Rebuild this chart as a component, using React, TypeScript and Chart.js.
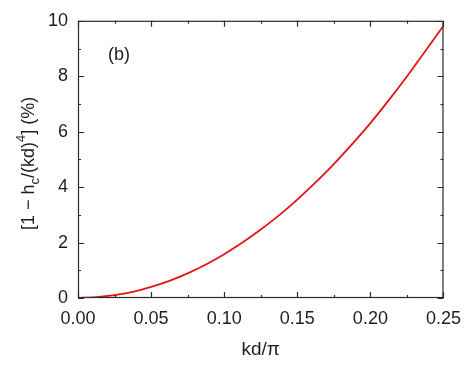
import React, { useEffect, useRef } from "react";
import { Chart, registerables } from "chart.js";

Chart.register(...registerables);

const kdOverPi = [0, 0.0125, 0.025, 0.0375, 0.05, 0.0625, 0.075, 0.0875, 0.1, 0.1125, 0.125, 0.1375, 0.15, 0.1625, 0.175, 0.1875, 0.2, 0.2125, 0.225, 0.2375, 0.25];
const deviationPct = [0, 0.03, 0.1, 0.22, 0.4, 0.62, 0.89, 1.21, 1.58, 2.0, 2.47, 2.98, 3.55, 4.17, 4.83, 5.55, 6.31, 7.13, 7.99, 8.9, 9.82];
const xMajorTicks = [0, 0.05, 0.1, 0.15, 0.2, 0.25];
const xMinorTicks = [0.025, 0.075, 0.125, 0.175, 0.225];
const yMajorTicks = [0, 2, 4, 6, 8, 10];
const yMinorTicks = [1, 3, 5, 7, 9];
const panelLabel = "(b)";
const xTitle = "kd/π";

const FONT = "'Liberation Sans', Arial, sans-serif";
const AXIS_COLOR = "#2a2a2a";
const TEXT_COLOR = "#1e1e1e";

const framePlugin = {
  id: "frame",
  afterDatasetsDraw(chart: any) {
    const { ctx, chartArea: a, scales } = chart;
    const xs = scales.x;
    const ys = scales.y;
    ctx.save();
    ctx.strokeStyle = AXIS_COLOR;
    ctx.lineWidth = 1.2;
    ctx.strokeRect(a.left + 0.5, a.top + 0.5, a.right - a.left - 1, a.bottom - a.top - 1);
    ctx.beginPath();
    const xt = (vals: number[], len: number) => {
      vals.forEach((v) => {
        const px = Math.round(xs.getPixelForValue(v)) + 0.5;
        ctx.moveTo(px, a.bottom);
        ctx.lineTo(px, a.bottom - len);
        ctx.moveTo(px, a.top);
        ctx.lineTo(px, a.top + len);
      });
    };
    const yt = (vals: number[], len: number) => {
      vals.forEach((v) => {
        const py = Math.round(ys.getPixelForValue(v)) + 0.5;
        ctx.moveTo(a.left, py);
        ctx.lineTo(a.left + len, py);
        ctx.moveTo(a.right, py);
        ctx.lineTo(a.right - len, py);
      });
    };
    xt(xMajorTicks, 6);
    xt(xMinorTicks, 3);
    yt(yMajorTicks, 6);
    yt(yMinorTicks, 3);
    ctx.stroke();

    // panel label
    ctx.fillStyle = TEXT_COLOR;
    ctx.font = `18px ${FONT}`;
    ctx.textAlign = "left";
    ctx.textBaseline = "middle";
    ctx.fillText(panelLabel, a.left + 30, a.top + 34);

    // y title with sub/superscripts
    const pieces = [
      { t: "[1 − h", size: 18, dy: 0 },
      { t: "c", size: 13, dy: 6 },
      { t: "/(kd)", size: 18, dy: 0 },
      { t: "4", size: 13, dy: -8 },
      { t: "] (%)", size: 18, dy: 0 },
    ];
    let total = 0;
    pieces.forEach((p) => {
      ctx.font = `${p.size}px ${FONT}`;
      total += ctx.measureText(p.t).width;
    });
    ctx.translate(29, (a.top + a.bottom) / 2 + 4);
    ctx.rotate(-Math.PI / 2);
    ctx.textAlign = "left";
    ctx.textBaseline = "middle";
    let x = -total / 2;
    pieces.forEach((p) => {
      ctx.font = `${p.size}px ${FONT}`;
      ctx.fillText(p.t, x, p.dy);
      x += ctx.measureText(p.t).width;
    });
    ctx.restore();
  },
};

export default function App() {
  const ref = useRef<HTMLCanvasElement>(null);
  useEffect(() => {
    if (!ref.current) return;
    const chart = new Chart(ref.current, {
      type: "line",
      data: {
        datasets: [
          {
            data: kdOverPi.map((x, i) => ({ x, y: deviationPct[i] })),
            borderColor: "rgb(228,20,20)",
            borderWidth: 1.8,
            pointRadius: 0,
            tension: 0.3,
            fill: false,
          },
        ],
      },
      options: {
        responsive: false,
        animation: false,
        layout: { padding: { left: 0, right: 25, top: 15, bottom: 0 } },
        plugins: { legend: { display: false }, tooltip: { enabled: false } },
        scales: {
          x: {
            type: "linear",
            min: 0,
            max: 0.25,
            afterFit: (s: any) => { s.height = 67; },
            afterBuildTicks: (s: any) => { s.ticks = xMajorTicks.map((v) => ({ value: v })); },
            grid: { display: false, drawTicks: false },
            border: { display: false },
            ticks: {
              padding: 10,
              color: TEXT_COLOR,
              font: { family: FONT, size: 18 },
              callback: (v: any) => Number(v).toFixed(2),
              maxRotation: 0,
            },
            title: {
              display: true,
              text: xTitle,
              color: TEXT_COLOR,
              font: { family: FONT, size: 19 },
              padding: { top: 4, bottom: 4 },
            },
          },
          y: {
            type: "linear",
            min: 0,
            max: 10,
            afterFit: (s: any) => { s.width = 78; },
            afterBuildTicks: (s: any) => { s.ticks = yMajorTicks.map((v) => ({ value: v })); },
            grid: { display: false, drawTicks: false },
            border: { display: false },
            ticks: {
              padding: 10,
              color: TEXT_COLOR,
              font: { family: FONT, size: 18 },
              callback: (v: any) => String(v),
            },
          },
        },
      },
      plugins: [framePlugin],
    } as any);
    return () => chart.destroy();
  }, []);
  return (
    <div style={{ position: "fixed", left: 0, top: 0, width: 471, height: 365, background: "#fff" }}>
      <canvas ref={ref} width={471} height={365} />
    </div>
  );
}
